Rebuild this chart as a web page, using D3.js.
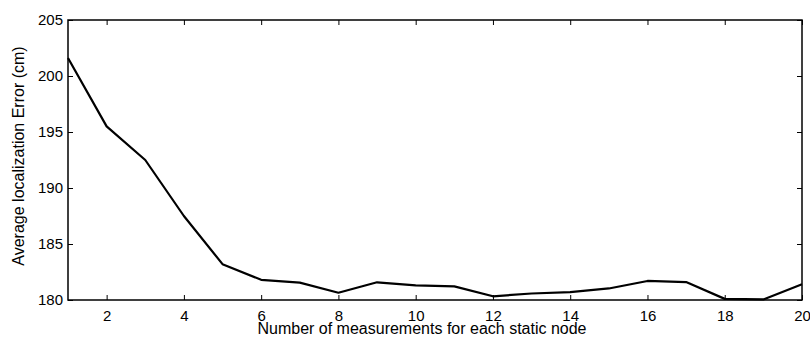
<!DOCTYPE html>
<html><head><meta charset="utf-8">
<script src="https://cdn.jsdelivr.net/npm/d3@7"></script>
<style>body{margin:0;background:#fff}svg{display:block}text{font-family:"Liberation Sans",Arial,sans-serif;fill:#000}</style>
</head><body>
<svg id="c" width="810" height="340"></svg>
<script>
const xValues = [1,2,3,4,5,6,7,8,9,10,11,12,13,14,15,16,17,18,19,20];
const errorValues = [201.6,195.5,192.5,187.5,183.2,181.8,181.55,180.65,181.58,181.3,181.22,180.33,180.58,180.71,181.03,181.7,181.6,180.1,180.05,181.4];
const xTicks = [2,4,6,8,10,12,14,16,18,20];
const yTicks = [180,185,190,195,200,205];
const xLabel = "Number of measurements for each static node";
const yLabel = "Average localization Error (cm)";

const svg = d3.select("#c");
const L=68, R=802, T=20, B=300;
const x = d3.scaleLinear().domain([1,20]).range([L,R]);
const y = d3.scaleLinear().domain([180,205]).range([B,T]);

function styleAxis(g){
  g.select(".domain").remove();
  g.selectAll(".tick line").attr("stroke","#000").attr("stroke-width",1);
  g.selectAll(".tick text").attr("font-size","15px").attr("font-family","Liberation Sans, Arial, sans-serif");
}
svg.append("g").attr("transform",`translate(0,${B})`)
  .call(d3.axisBottom(x).tickValues(xTicks).tickSizeInner(-5).tickSizeOuter(0).tickPadding(10).tickFormat(d3.format("d")))
  .call(styleAxis);
svg.append("g").attr("transform",`translate(0,${T})`)
  .call(d3.axisTop(x).tickValues(xTicks).tickSizeInner(-5).tickSizeOuter(0).tickFormat(""))
  .call(styleAxis);
svg.append("g").attr("transform",`translate(${L},0)`)
  .call(d3.axisLeft(y).tickValues(yTicks).tickSizeInner(-5).tickSizeOuter(0).tickPadding(5).tickFormat(d3.format("d")))
  .call(styleAxis);
svg.append("g").attr("transform",`translate(${R},0)`)
  .call(d3.axisRight(y).tickValues(yTicks).tickSizeInner(-5).tickSizeOuter(0).tickFormat(""))
  .call(styleAxis);

svg.append("rect").attr("x",L).attr("y",T).attr("width",R-L).attr("height",B-T)
  .attr("fill","none").attr("stroke","#000").attr("stroke-width",1.5);

svg.append("path").datum(xValues.map((v,i)=>[v,errorValues[i]]))
  .attr("fill","none").attr("stroke","#000").attr("stroke-width",2.2).attr("stroke-linejoin","round")
  .attr("d",d3.line().x(d=>x(d[0])).y(d=>y(d[1])));

svg.append("text").attr("x",422).attr("y",334).attr("text-anchor","middle")
  .attr("font-size","16px").text(xLabel);
svg.append("text").attr("transform",`translate(24,156) rotate(-90)`).attr("text-anchor","middle")
  .attr("font-size","16px").text(yLabel);
</script>
</body></html>
